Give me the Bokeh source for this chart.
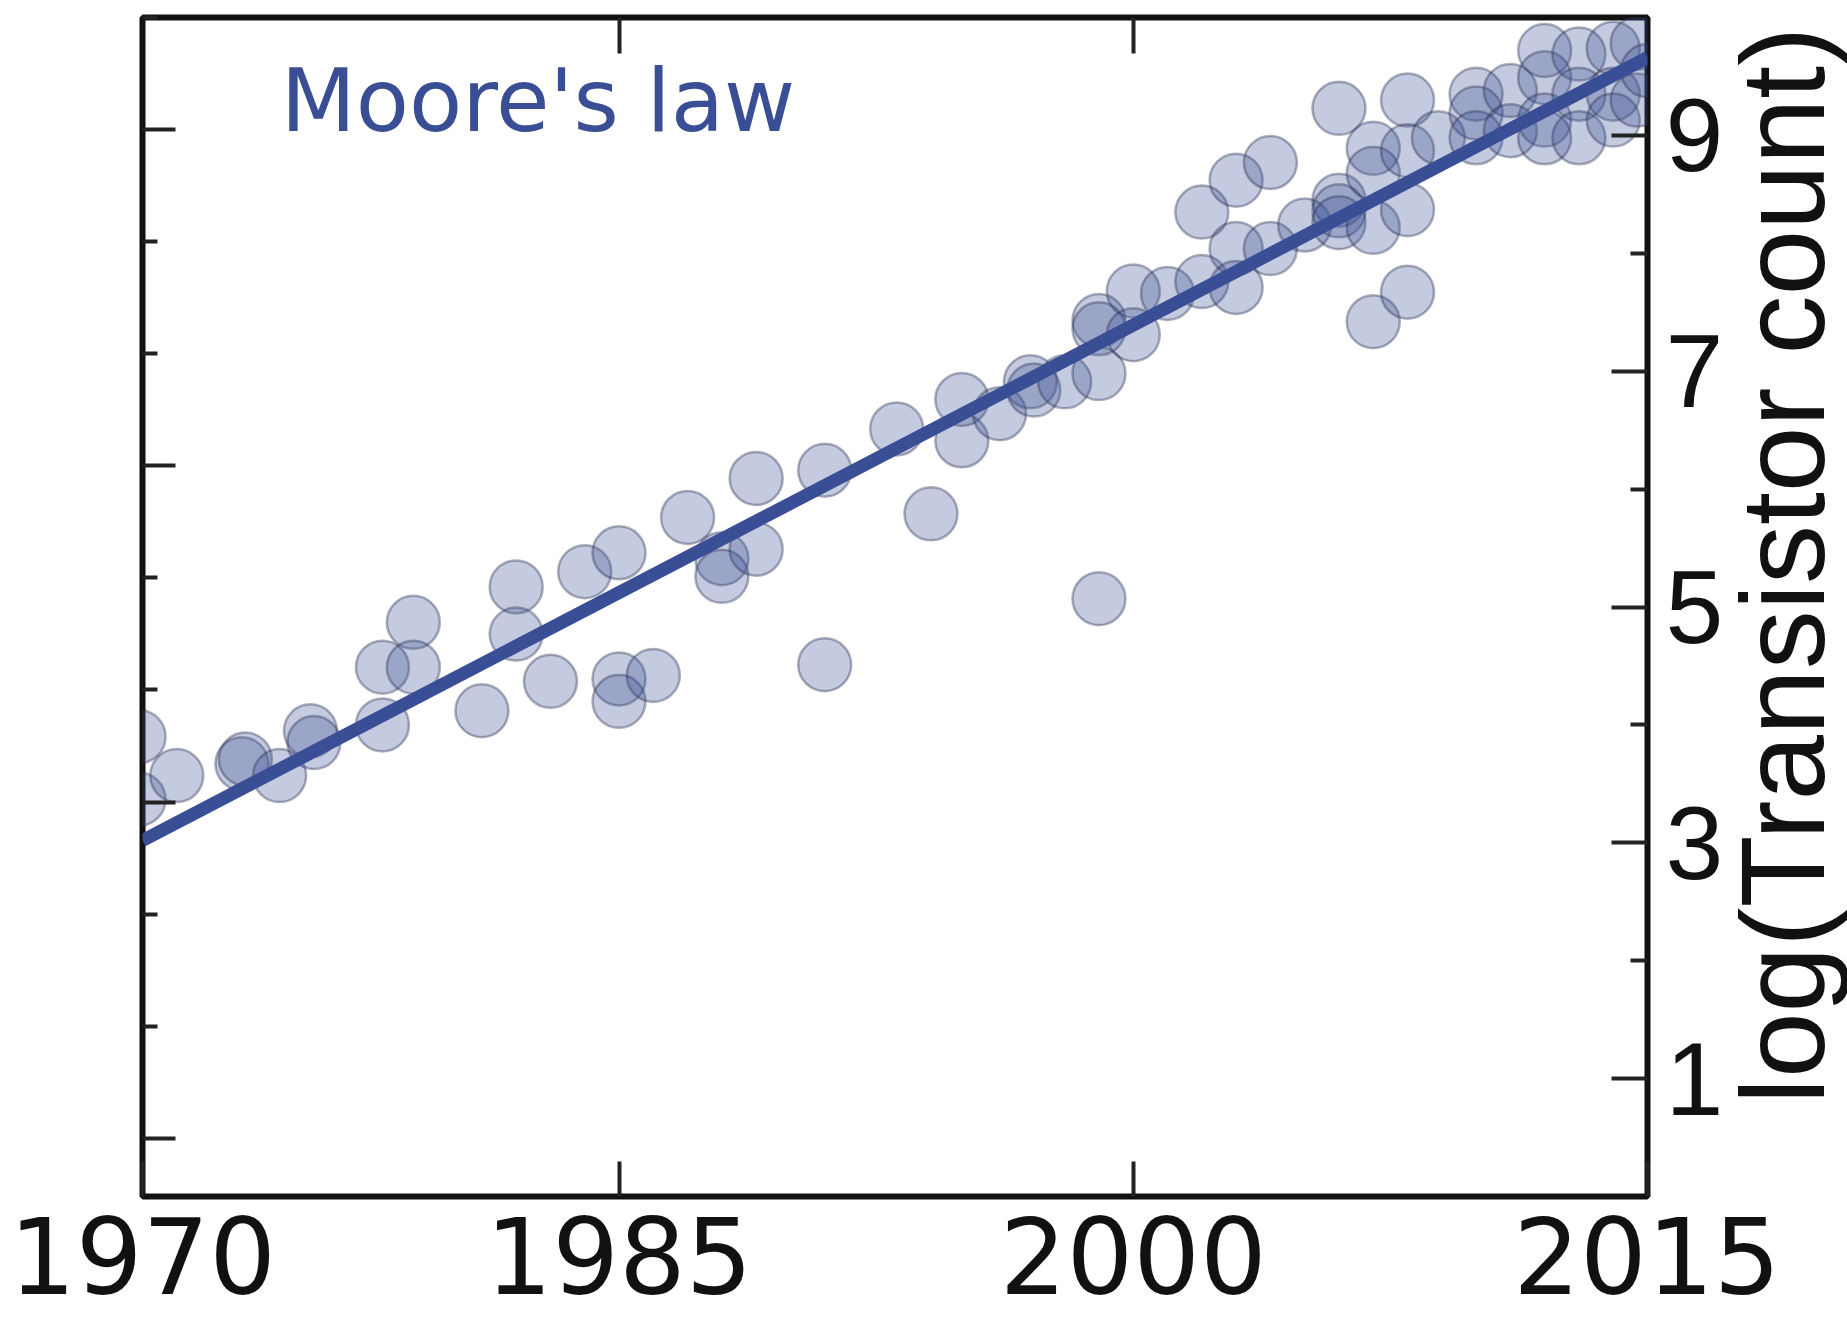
import math
from bokeh.plotting import figure
from bokeh.layouts import row
from bokeh.models import (Range1d, LinearAxis, FixedTicker, Label)
from bokeh.embed import file_html
from bokeh.resources import INLINE

# Microprocessor transistor counts: release year and log10(count)
years = [1971.0, 1971.0, 1972.1, 1974.0, 1974.1, 1975.1, 1976.0, 1976.1,
         1978.1, 1978.1, 1979.0, 1979.0, 1981.0, 1982.0, 1982.0, 1983.0,
         1984.0, 1985.0, 1985.0, 1985.0, 1986.0, 1987.0, 1988.0, 1988.0,
         1989.0, 1989.0, 1991.0, 1991.0, 1993.1, 1994.1, 1995.0, 1995.0,
         1996.1, 1997.0, 1997.1, 1998.0, 1999.0, 1999.0, 1999.0, 1999.0,
         2000.0, 2000.0, 2001.0, 2002.0, 2002.0, 2003.0, 2003.0, 2003.0,
         2004.0, 2004.0, 2005.0, 2006.0, 2006.0, 2006.0, 2006.0, 2007.0,
         2007.0, 2007.0, 2007.0, 2008.0, 2008.0, 2008.0, 2008.0, 2008.9,
         2010.0, 2010.0, 2010.0, 2011.0, 2011.0, 2012.0, 2012.0, 2012.0,
         2012.0, 2013.0, 2013.0, 2013.0, 2014.0, 2014.0, 2014.0, 2014.7,
         2014.7, 2015.0]
log_counts = [3.90, 3.37, 3.57, 3.67, 3.71, 3.57, 3.95, 3.85,
              4.49, 4.00, 4.87, 4.49, 4.12, 5.17, 4.77, 4.37,
              5.30, 5.46, 4.39, 4.20, 4.42, 5.76, 5.41, 5.26,
              6.09, 5.49, 6.16, 4.51, 6.51, 5.79, 6.76, 6.41,
              6.64, 6.91, 6.84, 6.91, 7.43, 7.36, 6.98, 5.07,
              7.68, 7.31, 7.66, 8.35, 7.76, 8.62, 8.04, 7.71,
              8.77, 8.04, 8.24, 9.23, 8.45, 8.36, 8.26, 8.89,
              8.68, 8.22, 7.42, 9.30, 8.87, 8.37, 7.67, 8.98,
              9.35, 9.19, 8.98, 9.38, 9.04, 9.72, 9.49, 9.13,
              8.98, 9.69, 9.35, 8.98, 9.74, 9.35, 9.13, 9.78,
              9.30, 9.55]

# Exponential trend (doubling roughly every two years)
trend_years = [1971.1, 2015.0]
trend_log = [3.02, 9.66]

# Axis ticks and labels
x_ticks = [1971.1, 1985, 2000, 2015]
x_tick_labels = ["1970", "1985", "2000", "2015"]
top_ticks = [1985, 2000]
right_major = [1, 3, 5, 7, 9]
right_minor = [2, 4, 6, 8]
left_major = [0, 3, 6, 9]
left_minor = [1, 2, 4, 5, 7, 8, 10]

BLUE = "#3a4e96"
INK = "#111111"

p = figure(width=1780, height=1320, output_backend="svg", toolbar_location=None,
           x_range=Range1d(1971.1, 2015.0), y_range=Range1d(0, 10),
           x_axis_location=None, y_axis_location=None,
           min_border_left=142, min_border_top=17, min_border_right=133,
           min_border_bottom=124)
p.extra_y_ranges = {"left": Range1d(-0.52, 10.0)}
p.grid.visible = False
p.background_fill_color = "white"
p.border_fill_color = "white"
p.outline_line_color = INK
p.outline_line_width = 6


def style_ticks(ax, major_len, minor_len):
    ax.axis_line_color = None
    ax.major_tick_in = major_len
    ax.major_tick_out = 0
    ax.minor_tick_in = minor_len
    ax.minor_tick_out = 0
    ax.major_tick_line_width = 4
    ax.minor_tick_line_width = 4
    ax.major_tick_line_color = "#222222"
    ax.minor_tick_line_color = "#222222"


def blank_labels(ax, ticks):
    ax.major_label_overrides = {t: "" for t in ticks}
    ax.major_label_standoff = 0


# bottom axis with year labels
xb = LinearAxis(ticker=FixedTicker(ticks=x_ticks))
style_ticks(xb, 35, 0)
xb.major_label_overrides = {t: s for t, s in zip(x_ticks, x_tick_labels)}
xb.major_label_text_font = "DejaVu Sans"
xb.major_label_text_font_size = "105px"
xb.major_label_text_color = INK
xb.major_label_standoff = 20
p.add_layout(xb, "below")

# top axis: ticks only
xt = LinearAxis(ticker=FixedTicker(ticks=top_ticks))
style_ticks(xt, 36, 0)
blank_labels(xt, top_ticks)
p.add_layout(xt, "above")

# left axis: ticks only, on its own scale
yl = LinearAxis(y_range_name="left",
                ticker=FixedTicker(ticks=left_major, minor_ticks=left_minor))
style_ticks(yl, 33, 15)
blank_labels(yl, left_major)
p.add_layout(yl, "left")

# right axis with log(count) labels
yr = LinearAxis(ticker=FixedTicker(ticks=right_major, minor_ticks=right_minor))
style_ticks(yr, 36, 17)
yr.major_label_text_font = "Liberation Sans"
yr.major_label_text_font_size = "104px"
yr.major_label_text_color = INK
yr.major_label_standoff = 18
p.add_layout(yr, "right")

p.scatter(years, log_counts, marker="circle", size=53,
          fill_color=BLUE, fill_alpha=0.3,
          line_color="#2a3050", line_alpha=0.38, line_width=2.5)
p.line(trend_years, trend_log, line_width=13, line_color=BLUE)

p.add_layout(Label(x=1975.13, y=9.29, text="Moore's law",
                   text_font="DejaVu Sans", text_font_size="87px",
                   text_color=BLUE, text_baseline="alphabetic"))

# transparent strip holding the axis title, reading bottom to top;
# it overlaps the main plot's right margin slightly
t = figure(width=117, height=1320, output_backend="svg", toolbar_location=None,
           x_range=Range1d(0, 1), y_range=Range1d(0, 1),
           x_axis_location=None, y_axis_location=None, min_border=0)
t.margin = (0, 0, 0, -50)
t.grid.visible = False
t.outline_line_color = None
t.background_fill_color = None
t.border_fill_color = None
t.add_layout(Label(x=52, y=631, x_units="screen", y_units="screen",
                   text="log(Transistor count)", angle=math.pi / 2,
                   text_align="center", text_baseline="alphabetic",
                   text_font="Liberation Sans", text_font_size="118px",
                   text_color=INK))

layout = row(p, t, spacing=0)
open("out.html", "w").write(file_html(layout, INLINE))
